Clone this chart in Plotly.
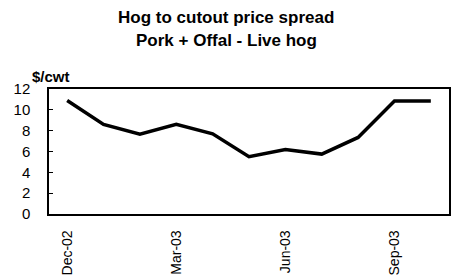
import plotly.graph_objects as go

months = ["Dec-02", "Jan-03", "Feb-03", "Mar-03", "Apr-03", "May-03",
          "Jun-03", "Jul-03", "Aug-03", "Sep-03", "Oct-03"]
spread = [10.9, 8.6, 7.65, 8.6, 7.7, 5.5, 6.2, 5.75, 7.35, 10.85, 10.85]
tick_labels = ["Dec-02", "Mar-03", "Jun-03", "Sep-03"]
y_ticks = [0, 2, 4, 6, 8, 10, 12]
title_lines = ["Hog to cutout price spread", "Pork + Offal - Live hog"]
unit_label = "$/cwt"

FONT = "Liberation Sans, Arial, sans-serif"
L, R, T, B = 49, 449, 89, 214
W, H = 456, 280


def px_x(px):
    return (px - L) / (R - L)


def px_y(py):
    return (B - py) / (B - T)


fig = go.Figure()
fig.add_trace(go.Scatter(x=months, y=spread, mode="lines",
                         line=dict(color="black", width=3.5),
                         showlegend=False))

annotations = [
    dict(text="<b>%s</b>" % title_lines[0], x=px_x(226), y=px_y(18),
         font=dict(family=FONT, size=17, color="black")),
    dict(text="<b>%s</b>" % title_lines[1], x=px_x(226), y=px_y(40),
         font=dict(family=FONT, size=17, color="black")),
    dict(text="<b>%s</b>" % unit_label, x=px_x(51), y=px_y(76.5),
         font=dict(family=FONT, size=15, color="black")),
]
for a in annotations:
    a.update(xref="paper", yref="paper", showarrow=False,
             xanchor="center", yanchor="middle")

fig.update_layout(
    width=W, height=H,
    margin=dict(l=L, r=W - R, t=T, b=H - B, autoexpand=False),
    paper_bgcolor="white", plot_bgcolor="white",
    font=dict(family=FONT, color="black", size=15),
    annotations=annotations,
)

fig.update_xaxes(type="category", categoryorder="array", categoryarray=months,
                 tickmode="array", tickvals=tick_labels, ticktext=tick_labels,
                 tickangle=-90, ticks="", showgrid=False, zeroline=False,
                 showline=True, linecolor="black", linewidth=1.5, mirror=True,
                 range=[-0.5, len(months) - 0.5], automargin=False,
                 ticklabelstandoff=9, tickfont=dict(size=14))
fig.update_yaxes(range=[0, 12], tickmode="array", tickvals=y_ticks,
                 ticks="inside", ticklen=4, tickcolor="black", tickwidth=1,
                 showgrid=False, zeroline=False, automargin=False,
                 showline=True, linecolor="black", linewidth=1.5, mirror=True,
                 ticklabelstandoff=14, tickfont=dict(size=15))

fig.write_html("out.html",
               config={"displayModeBar": False},
               post_script="document.body.style.margin='0';"
                           "document.body.style.overflow='hidden';")
